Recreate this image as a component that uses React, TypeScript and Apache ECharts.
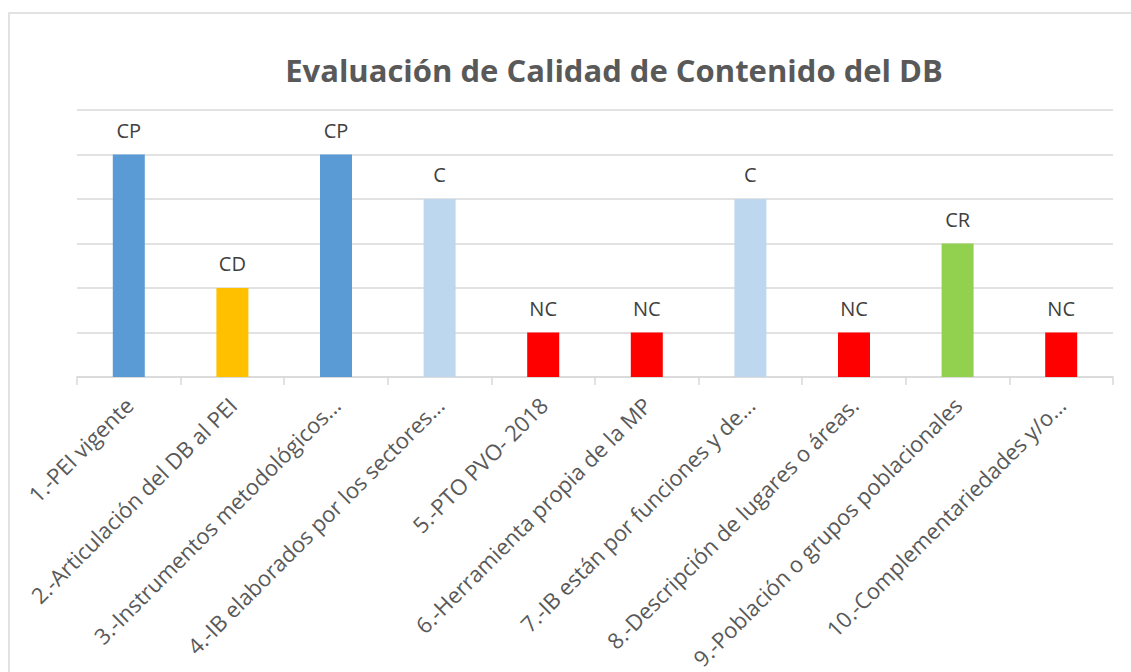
import React, { useEffect, useRef } from "react";
import * as echarts from "echarts";

const categories = [
  "1.-PEI vigente",
  "2.-Articulación del DB al PEI",
  "3.-Instrumentos metodológicos...",
  "4.-IB elaborados por los sectores...",
  "5.-PTO PVO- 2018",
  "6.-Herramienta propia de la MP",
  "7.-IB están por funciones y de...",
  "8.-Descripción de lugares o áreas.",
  "9.-Población o grupos poblacionales",
  "10.-Complementariedades y/o...",
];
const values = [5, 2, 5, 4, 1, 1, 4, 1, 3, 1];
const ratings = ["CP", "CD", "CP", "C", "NC", "NC", "C", "NC", "CR", "NC"];
const ratingColors: Record<string, string> = {
  CP: "#5B9BD5",
  CD: "#FFC000",
  C: "#BDD7EE",
  NC: "#FF0000",
  CR: "#92D050",
};

const FONT = "'Open Sans', sans-serif";

export default function App() {
  const ref = useRef<HTMLDivElement>(null);
  useEffect(() => {
    if (!ref.current) return;
    const chart = echarts.init(ref.current, null, { renderer: "svg" });
    chart.setOption({
      animation: false,
      backgroundColor: "#ffffff",
      title: {
        text: "Evaluación de Calidad de Contenido del DB",
        left: 609,
        top: 49,
        textAlign: "center",
        textStyle: {
          fontFamily: FONT,
          fontSize: 31,
          fontWeight: "bold",
          color: "#595959",
        },
      },
      graphic: [
        {
          type: "rect",
          shape: { x: 9, y: 13, width: 1140, height: 680 },
          style: { fill: "none", stroke: "#d9d9d9", lineWidth: 1.5 },
          silent: true,
        },
      ],
      grid: { left: 77, right: 18, top: 110, bottom: 294.5 },
      xAxis: {
        type: "category",
        data: categories,
        boundaryGap: true,
        axisLine: { lineStyle: { color: "#d9d9d9", width: 1.5 } },
        axisTick: { show: true, length: 8, lineStyle: { color: "#d9d9d9", width: 1.5 } },
        axisLabel: {
          rotate: 45,
          interval: 0,
          margin: 24,
          fontFamily: FONT,
          fontSize: 22,
          color: "#595959",
        },
      },
      yAxis: {
        type: "value",
        min: 0,
        max: 6,
        interval: 1,
        axisLabel: { show: false },
        axisLine: { show: false },
        axisTick: { show: false },
        splitLine: { lineStyle: { color: "#d9d9d9", width: 1.5 } },
      },
      series: [
        {
          type: "bar",
          barWidth: 32,
          data: values.map((v, i) => ({
            value: v,
            itemStyle: { color: ratingColors[ratings[i]] },
          })),
          label: {
            show: true,
            position: "top",
            distance: 14,
            formatter: (p: any) => ratings[p.dataIndex],
            fontFamily: FONT,
            fontSize: 20,
            color: "#404040",
          },
        },
      ],
    });
    return () => chart.dispose();
  }, []);
  return (
    <div
      ref={ref}
      style={{ position: "fixed", left: 0, top: 0, width: 1131, height: 672 }}
    />
  );
}
